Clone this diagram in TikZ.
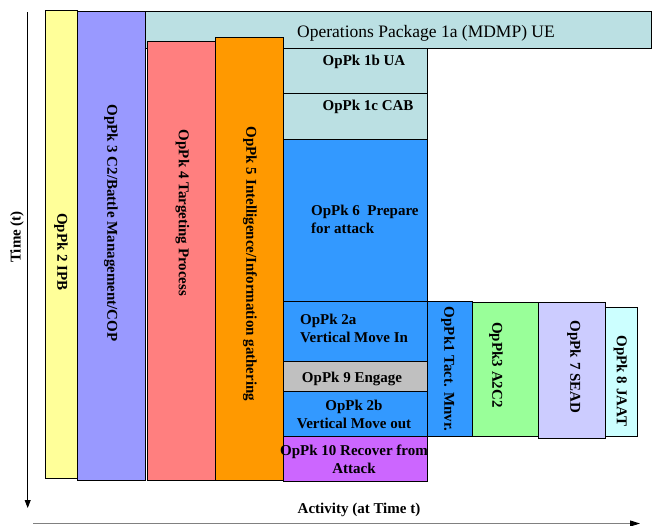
\documentclass[tikz,border=0pt]{standalone}
\usepackage{fontspec}
\setmainfont{Liberation Serif}
\usetikzlibrary{arrows.meta}

\definecolor{ipbfill}{HTML}{FFFF99}
\definecolor{cfill}{HTML}{9999FF}
\definecolor{tgtfill}{HTML}{FF7F7F}
\definecolor{intelfill}{HTML}{FF9900}
\definecolor{uefill}{HTML}{BBE0E3}
\definecolor{movefill}{HTML}{3399FF}
\definecolor{engfill}{HTML}{C0C0C0}
\definecolor{recfill}{HTML}{CC66FF}
\definecolor{a2fill}{HTML}{99FF99}
\definecolor{seadfill}{HTML}{CCCCFF}
\definecolor{jaatfill}{HTML}{CCFFFF}
\definecolor{axisgray}{HTML}{808080}

\tikzset{
  pkbox/.style={draw=black, line width=0.8pt, inner sep=0pt, outer sep=0pt, anchor=north west},
  lbl/.style={font=\fontsize{15}{18}\selectfont\bfseries, inner sep=0pt, align=center},
  vlbl/.style={lbl, rotate=-90},
  axislbl/.style={font=\fontsize{15}{18}\selectfont\bfseries, inner sep=0pt},
}

\begin{document}
\begin{tikzpicture}[x=1pt, y=-1pt]
  \useasboundingbox (0,0) rectangle (653,525);

  % long-running packages (vertical bars)
  \node[pkbox, fill=ipbfill, minimum width=32pt, minimum height=468pt] (ipb) at (45,10) {};
  \node[pkbox, fill=cfill, minimum width=68pt, minimum height=469pt] (c2) at (77,11) {};
  \node[pkbox, fill=uefill, minimum width=506pt, minimum height=37pt] (ue) at (145,11) {};
  \node[pkbox, fill=tgtfill, minimum width=68pt, minimum height=439pt] (tgt) at (147,41) {};
  \node[pkbox, fill=intelfill, minimum width=68pt, minimum height=443pt] (intel) at (215,37) {};

  % sequential packages (middle column)
  \node[pkbox, fill=uefill, minimum width=144pt, minimum height=45pt] (ua) at (283,48) {};
  \node[pkbox, fill=uefill, minimum width=144pt, minimum height=46pt] (cab) at (283,93) {};
  \node[pkbox, fill=movefill, minimum width=144pt, minimum height=162pt] (prep) at (283,139) {};
  \node[pkbox, fill=movefill, minimum width=144pt, minimum height=60pt] (vin) at (283,301) {};
  \node[pkbox, fill=engfill, minimum width=144pt, minimum height=30pt] (eng) at (283,361) {};
  \node[pkbox, fill=movefill, minimum width=144pt, minimum height=45pt] (vout) at (283,391) {};
  \node[pkbox, fill=recfill, minimum width=144pt, minimum height=45pt] (rec) at (283,436) {};

  % concurrent packages (right group)
  \node[pkbox, fill=movefill, minimum width=45pt, minimum height=135pt] (tact) at (427,301) {};
  \node[pkbox, fill=a2fill, minimum width=66pt, minimum height=134pt] (a2c2) at (472,302) {};
  \node[pkbox, fill=seadfill, minimum width=67pt, minimum height=136pt] (sead) at (538,302) {};
  \node[pkbox, fill=jaatfill, minimum width=32pt, minimum height=129pt] (jaat) at (605,307) {};

  % labels
  \node[inner sep=0pt, font=\fontsize{17.5}{20}\selectfont] (uet) at (426,33.5) {Operations Package 1a (MDMP) UE};
  \node[lbl] (uat) at (364,62) {OpPk 1b UA};
  \node[lbl] (cabt) at (368,107) {OpPk 1c CAB};
  \node[lbl, align=left, anchor=west] (prept) at (311,219) {OpPk 6\ \ Prepare\\for attack};
  \node[lbl, align=left, anchor=west] (vint) at (300,328) {OpPk 2a\\Vertical Move In};
  \node[lbl] (engt) at (352,379) {OpPk 9 Engage};
  \node[lbl] (voutt) at (354,414) {OpPk 2b\\Vertical Move out};
  \node[lbl] (rect) at (354,459.5) {OpPk 10 Recover from\\Attack};

  \node[vlbl] (ipbt) at (61,252) {OpPk 2 IPB};
  \node[vlbl] (c2t) at (111,223) {OpPk 3 C2/Battle Management/COP};
  \node[vlbl] (tgtt) at (182.5,213) {OpPk 4 Targeting Process};
  \node[vlbl] (intelt) at (250,264) {OpPk 5 Intelligence/Information gathering};
  \node[vlbl] (tactt) at (448,369) {OpPk1 Tact. Mnvr.};
  \node[vlbl] (a2c2t) at (496,365) {OpPk3 A2C2};
  \node[vlbl] (seadt) at (574,367) {OpPk 7 SEAD};
  \node[vlbl] (jaatt) at (620.5,381) {OpPk 8 JAAT};

  % axes
  \coordinate (tstart) at (27.7,12);
  \coordinate (tend) at (27.7,508);
  \draw[line width=0.9pt, -{Triangle[length=8pt, width=6pt]}] (tstart) -- (tend);
  \node[axislbl, rotate=90] (timet) at (17,237) {Time (t)};

  \coordinate (astart) at (33,523.5);
  \coordinate (aend) at (640,523.5);
  \draw[axisgray, line width=1pt, -{Triangle[length=10pt, width=6pt, color=black]}] (astart) -- (aend);
  \node[axislbl] (actt) at (359,510) {Activity (at Time t)};
\end{tikzpicture}
\end{document}
